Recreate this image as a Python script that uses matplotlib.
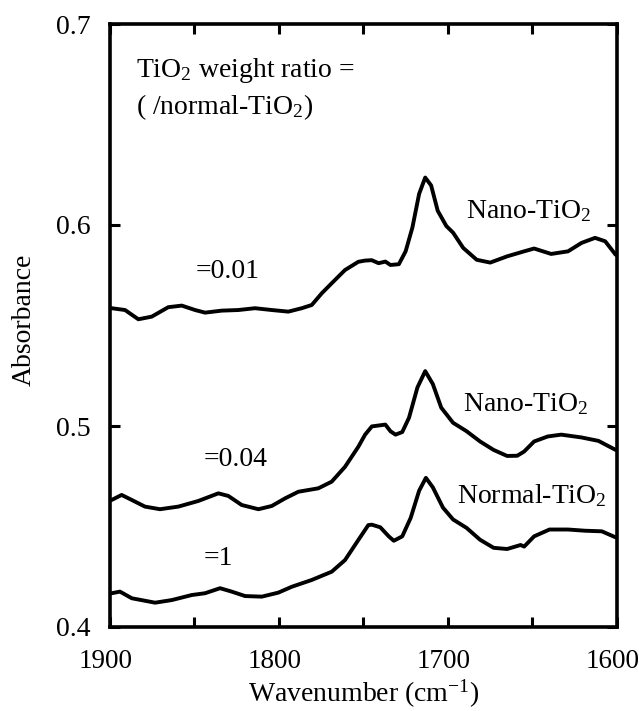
import matplotlib
matplotlib.use("Agg")
import matplotlib.pyplot as plt
import matplotlib.transforms as mtrans
import numpy as np

plt.rcParams['font.family'] = ['Liberation Serif', 'DejaVu Serif']
plt.rcParams['mathtext.fontset'] = 'custom'
plt.rcParams['mathtext.rm'] = 'Liberation Serif'
plt.rcParams['mathtext.it'] = 'Liberation Serif:italic'

# ---- data ----
wn_top = [1899, 1891.1, 1883.2, 1875.3, 1865.5, 1857.5, 1849.6, 1843.7, 1833.8, 1824, 1814.1,
          1804.2, 1794.4, 1786.4, 1780.5, 1774.6, 1768.7, 1760.8, 1752.9, 1748.9, 1745, 1740.9,
          1736.9, 1733.9, 1728.9, 1724.9, 1720.9, 1716.9, 1713.3, 1709.8, 1705.9, 1700.8,
          1696.8, 1690.8, 1682.8, 1674.8, 1664.8, 1654.7, 1648.8, 1638.7, 1628.7, 1620.7,
          1612.7, 1606.7, 1600.5]
abs_top = [0.5586, 0.5577, 0.5531, 0.5544, 0.5591, 0.5599, 0.5577, 0.5564, 0.5574, 0.5577, 0.5586,
           0.5577, 0.5569, 0.5586, 0.5602, 0.566, 0.571, 0.5776, 0.5817, 0.5823, 0.5825, 0.581,
           0.5818, 0.5801, 0.5805, 0.5869, 0.5987, 0.6155, 0.6236, 0.6197, 0.6071, 0.5995,
           0.5962, 0.5886, 0.5827, 0.5813, 0.5844, 0.5869, 0.5883, 0.5856, 0.5869, 0.5911,
           0.5936, 0.5919, 0.5852]

wn_mid = [1899, 1893.1, 1887.1, 1879.3, 1870.4, 1859.5, 1847.7, 1835.8, 1829.9, 1822, 1812.1,
          1804.2, 1796.3, 1788.4, 1776.6, 1768.7, 1760.8, 1752.9, 1748.9, 1744.9, 1736.9,
          1733.9, 1730.9, 1726.9, 1722.9, 1717.9, 1713.3, 1708.8, 1703.8, 1696.8, 1688.8,
          1680.8, 1672.8, 1664.8, 1658.8, 1654.7, 1648.8, 1640.7, 1632.7, 1620.7, 1610.7, 1600.5]
abs_mid = [0.4632, 0.4657, 0.4632, 0.4599, 0.4586, 0.4599, 0.4627, 0.4665, 0.4652, 0.4607, 0.4586,
           0.4602, 0.464, 0.4673, 0.469, 0.4723, 0.4797, 0.4897, 0.4957, 0.4998, 0.5007,
           0.4974, 0.4957, 0.497, 0.5041, 0.5192, 0.5273, 0.5209, 0.5091, 0.5016, 0.4974,
           0.4923, 0.4881, 0.4851, 0.4852, 0.4873, 0.4923, 0.4948, 0.4957, 0.4943, 0.4926, 0.4881]

wn_bot = [1899, 1894.1, 1887.1, 1873.3, 1863.4, 1851.6, 1843.7, 1834.8, 1827.9, 1820, 1810.1,
          1800.3, 1792.4, 1780.5, 1768.7, 1760.8, 1752.9, 1747, 1744.9, 1739.9, 1734.9, 1731.9,
          1726.9, 1721.9, 1716.9, 1712.9, 1708.8, 1702.8, 1696.8, 1688.8, 1680.8, 1672.8,
          1664.8, 1656.8, 1654.7, 1648.8, 1639.7, 1628.7, 1618.7, 1608.7, 1600.5]
abs_bot = [0.4168, 0.4176, 0.4143, 0.4121, 0.4134, 0.4159, 0.4168, 0.4193, 0.4176, 0.4154, 0.4151,
           0.4171, 0.42, 0.4234, 0.4275, 0.4333, 0.4433, 0.4507, 0.4509, 0.4496, 0.4451, 0.4429,
           0.4451, 0.4543, 0.4678, 0.4742, 0.4695, 0.4594, 0.4535, 0.4493, 0.4434, 0.4394,
           0.4388, 0.4408, 0.44, 0.4451, 0.4485, 0.4485, 0.4479, 0.4476, 0.4446]

x_ticks = [1900, 1850, 1800, 1750, 1700, 1650, 1600]
x_ticklabels = ['1900', '', '1800', '', '1700', '', '1600']
y_ticks = [0.4, 0.5, 0.6, 0.7]
y_ticklabels = ['0.4', '0.5', '0.6', '0.7']

fig = plt.figure(figsize=(6.39, 7.11), dpi=100)
ax = fig.add_axes([110/639, 1-627/711, (616.5-110)/639, (627-24)/711])

for wn, ab in [(wn_top, abs_top), (wn_mid, abs_mid), (wn_bot, abs_bot)]:
    ax.plot(wn, ab, color='black', lw=2.8, solid_joinstyle='round', solid_capstyle='round')

ax.set_xlim(1900, 1600)
ax.set_ylim(0.4, 0.7)
ax.set_xticks(x_ticks)
ax.set_xticklabels(x_ticklabels)
ax.set_yticks(y_ticks)
ax.set_yticklabels(y_ticklabels)
ax.tick_params(direction='in', length=7, width=2.2, labelsize=20, top=True, right=True)
ax.tick_params(axis='y', pad=14)
ax.tick_params(axis='x', pad=15.5, labelsize=19.5)
for s in ax.spines.values():
    s.set_linewidth(2.6)

shift = mtrans.ScaledTranslation(-4/100, 0, fig.dpi_scale_trans)
for lab in ax.get_xticklabels():
    lab.set_transform(lab.get_transform() + shift)

ax.set_xlabel('Wavenumber (cm$^{\\mathregular{-1}}$)', fontsize=20, va='center')
ax.xaxis.set_label_coords(0.5, (627-694)/603)
ax.set_ylabel('Absorbance', fontsize=20, va='center')
ax.yaxis.set_label_coords((24-110)/506.5, (627-320)/603)

fs = 20
ax.text(1884.6, 0.677, 'TiO$_2$ weight ratio =', fontsize=fs, va='center', ha='left')
ax.text(1884.6, 0.6587, '( /normal-TiO$_2$)', fontsize=fs, va='center', ha='left')
ax.text(1689.1, 0.607, 'Nano-TiO$_2$', fontsize=fs, va='center', ha='left')
ax.text(1849.3, 0.5768, '=0.01', fontsize=fs, va='center', ha='left')
ax.text(1690.9, 0.511, 'Nano-TiO$_2$', fontsize=fs, va='center', ha='left')
ax.text(1844.7, 0.4831, '=0.04', fontsize=fs, va='center', ha='left')
ax.text(1694.4, 0.4653, 'Normal-TiO$_2$', fontsize=fs, va='center', ha='left')
ax.text(1844.3, 0.4342, '=1', fontsize=fs, va='center', ha='left')

fig.savefig('out.png', dpi=100)
